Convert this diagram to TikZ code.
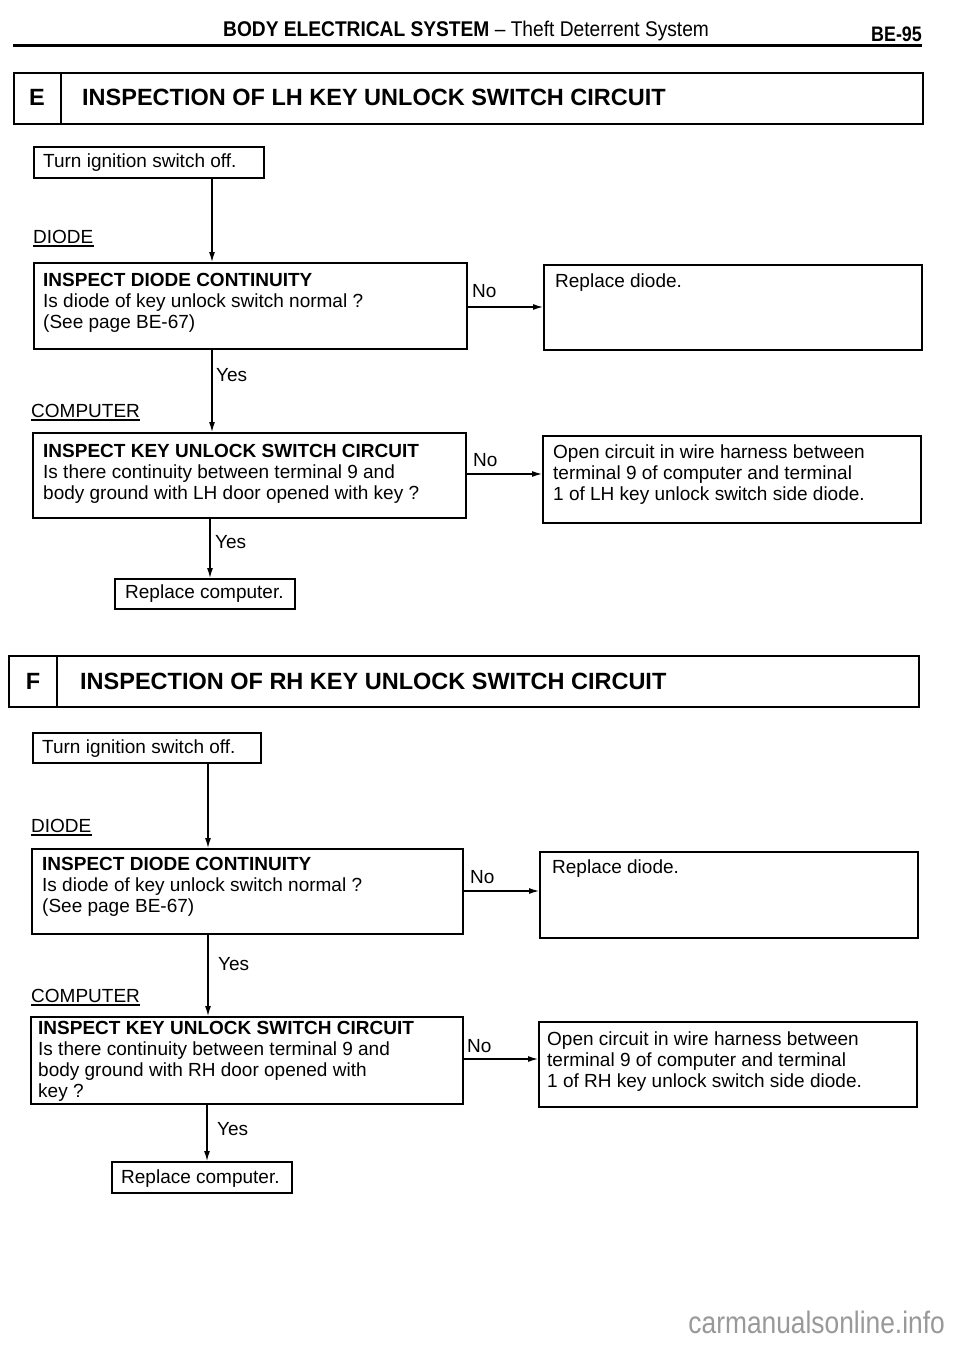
\documentclass[tikz,border=0pt]{standalone}
\usepackage{fontspec}
\setmainfont{Liberation Sans}
\newfontfamily\wmfont[FakeStretch=0.85]{Liberation Sans}
\newfontfamily\condfont[FakeStretch=0.9,Ligatures=TeX]{Liberation Sans}
\usetikzlibrary{arrows.meta}
\begin{document}
\begin{tikzpicture}[x=1pt,y=-1pt,
  box/.style={draw, line width=1.5pt, inner sep=0pt, anchor=north west},
  arr/.style={line width=1.2pt, -{Latex[length=10pt,width=6pt]}},
  txt/.style={inner sep=0pt, anchor=base west, font=\fontsize{19}{21}\selectfont},
  btxt/.style={txt, font=\fontsize{19}{21}\selectfont\bfseries},
  ttl/.style={inner sep=0pt, anchor=base west, font=\fontsize{23.5}{26}\selectfont\bfseries}
]
\useasboundingbox (0,0) rectangle (960,1346);
\fill[white] (0,0) rectangle (960,1346);

% ---------- page header ----------
\node[inner sep=0pt, anchor=base west, font=\condfont\fontsize{21.3}{23}\selectfont] (hdr) at (223,37)
  {\textbf{BODY ELECTRICAL SYSTEM} \textendash{} Theft Deterrent System};
\node[inner sep=0pt, anchor=base east, font=\wmfont\fontsize{21}{23}\selectfont\bfseries] (pg) at (922,42) {BE-95};
\draw[line width=3pt] (13,46) -- (922,46);

% ---------- section E ----------
\node[box, minimum width=909pt, minimum height=51pt] (ebox) at (13,72) {};
\coordinate (edv) at (61,0);
\draw[line width=1.5pt] (ebox.north -| edv) -- (ebox.south -| edv);
\node[ttl, anchor=base] (eletter) at (37,105) {E};
\node[ttl] (etitle) at (82,105) {INSPECTION OF LH KEY UNLOCK SWITCH CIRCUIT};

\node[box, minimum width=230pt, minimum height=31pt] (turn1) at (33,146) {};
\node[txt] (turn1t) at (43,167) {Turn ignition switch off.};

\node[txt] (diode1) at (33,243) {DIODE};
\draw[line width=1.1pt] ([yshift=-3pt]diode1.base west) -- ([yshift=-3pt]diode1.base east);

\node[box, minimum width=433pt, minimum height=86pt] (d1) at (33,262) {};
\node[btxt] (d1a) at (43,286) {INSPECT DIODE CONTINUITY};
\node[txt] (d1b) at (43,307) {Is diode of key unlock switch normal ?};
\node[txt] (d1c) at (43,328) {(See page BE-67)};

\node[box, minimum width=378pt, minimum height=85pt] (r1) at (543,264) {};
\node[txt] (r1t) at (555,287) {Replace diode.};

\node[txt] (no1) at (472,297) {No};
\coordinate (ny1) at (0,307);
\draw[arr] (d1.east |- ny1) -- (r1.west |- ny1);

\coordinate (ex1) at (212,0);
\draw[arr] (turn1.south -| ex1) -- (d1.north -| ex1);

\node[txt] (yes1) at (216,381) {Yes};
\node[txt] (comp1) at (31,417) {COMPUTER};
\draw[line width=1.1pt] ([yshift=-3pt]comp1.base west) -- ([yshift=-3pt]comp1.base east);

\node[box, minimum width=433pt, minimum height=85pt] (c1) at (32,432) {};
\node[btxt] (c1a) at (43,457) {INSPECT KEY UNLOCK SWITCH CIRCUIT};
\node[txt] (c1b) at (43,478) {Is there continuity between terminal 9 and};
\node[txt] (c1c) at (43,499) {body ground with LH door opened with key ?};
\draw[arr] (d1.south -| ex1) -- (c1.north -| ex1);

\node[box, minimum width=378pt, minimum height=87pt] (o1) at (542,435) {};
\node[txt] (o1a) at (553,458) {Open circuit in wire harness between};
\node[txt] (o1b) at (553,479) {terminal 9 of computer and terminal};
\node[txt] (o1c) at (553,500) {1 of LH key unlock switch side diode.};

\node[txt] (no2) at (473,466) {No};
\coordinate (ny2) at (0,474);
\draw[arr] (c1.east |- ny2) -- (o1.west |- ny2);

\node[box, minimum width=180pt, minimum height=30pt] (rc1) at (114,578) {};
\node[txt] (rc1t) at (125,598) {Replace computer.};
\coordinate (ex2) at (210,0);
\node[txt] (yes2) at (215,548) {Yes};
\draw[arr] (c1.south -| ex2) -- (rc1.north -| ex2);

% ---------- section F ----------
\node[box, minimum width=910pt, minimum height=51pt] (fbox) at (8,655) {};
\coordinate (fdv) at (57,0);
\draw[line width=1.5pt] (fbox.north -| fdv) -- (fbox.south -| fdv);
\node[ttl, anchor=base] (fletter) at (33,689) {F};
\node[ttl] (ftitle) at (80,689) {INSPECTION OF RH KEY UNLOCK SWITCH CIRCUIT};

\node[box, minimum width=228pt, minimum height=30pt] (turn2) at (32,732) {};
\node[txt] (turn2t) at (42,753) {Turn ignition switch off.};

\node[txt] (diode2) at (31,832) {DIODE};
\draw[line width=1.1pt] ([yshift=-3pt]diode2.base west) -- ([yshift=-3pt]diode2.base east);

\node[box, minimum width=431pt, minimum height=85pt] (d2) at (31,848) {};
\node[btxt] (d2a) at (42,870) {INSPECT DIODE CONTINUITY};
\node[txt] (d2b) at (42,891) {Is diode of key unlock switch normal ?};
\node[txt] (d2c) at (42,912) {(See page BE-67)};

\node[box, minimum width=378pt, minimum height=86pt] (r2) at (539,851) {};
\node[txt] (r2t) at (552,873) {Replace diode.};

\node[txt] (no3) at (470,883) {No};
\coordinate (ny3) at (0,891);
\draw[arr] (d2.east |- ny3) -- (r2.west |- ny3);

\coordinate (fx1) at (208,0);
\draw[arr] (turn2.south -| fx1) -- (d2.north -| fx1);

\node[txt] (yes3) at (218,970) {Yes};
\node[txt] (comp2) at (31,1002) {COMPUTER};
\draw[line width=1.1pt] ([yshift=-3pt]comp2.base west) -- ([yshift=-3pt]comp2.base east);

\node[box, minimum width=432pt, minimum height=87pt] (c2) at (30,1016) {};
\node[btxt] (c2a) at (38,1034) {INSPECT KEY UNLOCK SWITCH CIRCUIT};
\node[txt] (c2b) at (38,1055) {Is there continuity between terminal 9 and};
\node[txt] (c2c) at (38,1076) {body ground with RH door opened with};
\node[txt] (c2d) at (38,1097) {key ?};
\draw[arr] (d2.south -| fx1) -- (c2.north -| fx1);

\node[box, minimum width=378pt, minimum height=85pt] (o2) at (538,1021) {};
\node[txt] (o2a) at (547,1045) {Open circuit in wire harness between};
\node[txt] (o2b) at (547,1066) {terminal 9 of computer and terminal};
\node[txt] (o2c) at (547,1087) {1 of RH key unlock switch side diode.};

\node[txt] (no4) at (467,1052) {No};
\coordinate (ny4) at (0,1059);
\draw[arr] (c2.east |- ny4) -- (o2.west |- ny4);

\node[box, minimum width=180pt, minimum height=31pt] (rc2) at (111,1161) {};
\node[txt] (rc2t) at (121,1183) {Replace computer.};
\coordinate (fx2) at (207,0);
\node[txt] (yes4) at (217,1135) {Yes};
\draw[arr] (c2.south -| fx2) -- (rc2.north -| fx2);

% ---------- watermark ----------
\node[inner sep=0pt, anchor=base east, text=black!40, font=\wmfont\fontsize{31}{31}\selectfont] (wm) at (945,1333) {carmanualsonline.info};
\end{tikzpicture}
\end{document}
